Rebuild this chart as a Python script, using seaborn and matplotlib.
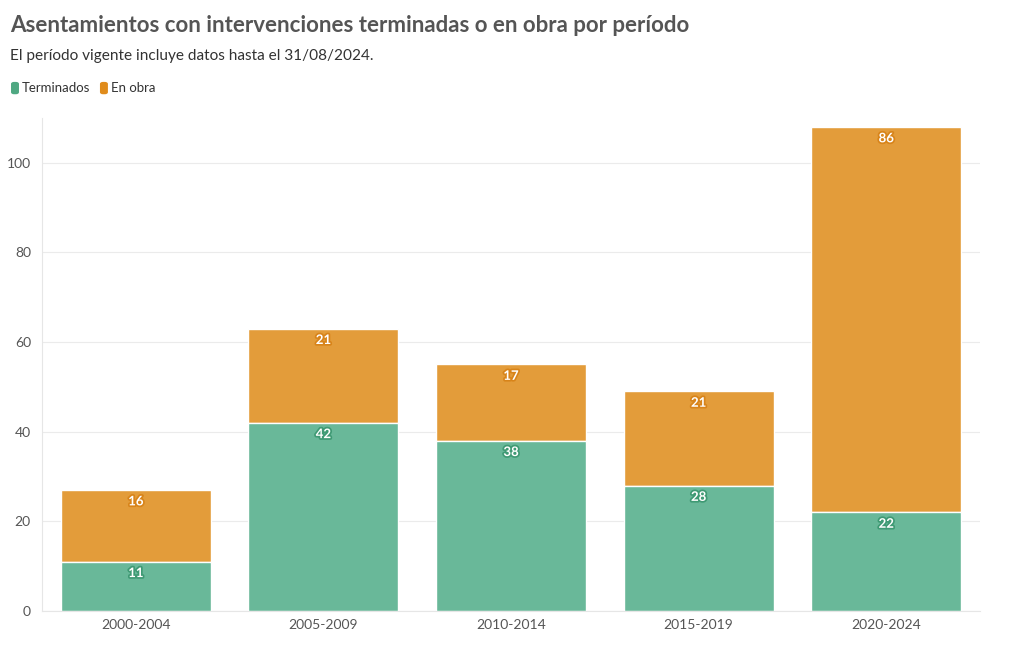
import matplotlib
matplotlib.use("Agg")
import matplotlib.pyplot as plt
import matplotlib.patheffects as pe
import seaborn as sns
import pandas as pd
import numpy as np

periods = ["2000-2004", "2005-2009", "2010-2014", "2015-2019", "2020-2024"]
terminados = [11, 42, 38, 28, 22]
en_obra = [16, 21, 17, 21, 86]
yticks = [0, 20, 40, 60, 80, 100]

GREEN = "#69b899"
ORANGE = "#e39c3a"
GREEN_LEG = "#4fa882"
ORANGE_LEG = "#e08c1c"
TXT = "#555555"

sns.set_theme(style="white")
plt.rcParams["font.family"] = ["Lato", "DejaVu Sans"]

fig = plt.figure(figsize=(10.2, 6.5), dpi=100)
ax = fig.add_axes([0.0412, 0.06, 0.9196, 0.7585])

df = pd.DataFrame({"period": periods, "terminados": terminados, "en_obra": en_obra})

sns.barplot(data=df, x="period", y="en_obra", bottom=df["terminados"], color=ORANGE,
            saturation=1, width=0.8, edgecolor="white", linewidth=1, ax=ax)
sns.barplot(data=df, x="period", y="terminados", color=GREEN,
            saturation=1, width=0.8, edgecolor="white", linewidth=1, ax=ax)

for i, (t, o) in enumerate(zip(terminados, en_obra)):
    ax.text(i, t - 1.2, str(t), ha="center", va="top", color="white", fontsize=9.5,
            fontweight="bold",
            path_effects=[pe.withStroke(linewidth=2.5, foreground="#3f9a74")])
    ax.text(i, t + o - 1.2, str(o), ha="center", va="top", color="white", fontsize=9.5,
            fontweight="bold",
            path_effects=[pe.withStroke(linewidth=2.5, foreground="#d8841a")])

ax.set_xlim(-0.5, 4.5)
ax.set_ylim(0, 110)
ax.set_yticks(yticks)
ax.set_yticklabels([str(v) for v in yticks], color=TXT, fontsize=10)
ax.tick_params(axis="x", colors=TXT, labelsize=10, length=0, pad=6)
ax.tick_params(axis="y", length=0, pad=8)
ax.set_xlabel("")
ax.set_ylabel("")
ax.yaxis.grid(True, color="#ebebeb", linewidth=0.8)
ax.set_axisbelow(True)
for s in ["top", "right"]:
    ax.spines[s].set_visible(False)
ax.spines["left"].set_color("#e6e6e6")
ax.spines["bottom"].set_color("#e6e6e6")
ax.spines["left"].set_linewidth(0.8)
ax.spines["bottom"].set_linewidth(0.8)

fig.text(0.0098, 0.960, "Asentamientos con intervenciones terminadas o en obra por período",
         fontsize=16, fontweight="bold", color=TXT, va="center", ha="left")
fig.text(0.0098, 0.914, "El período vigente incluye datos hasta el 31/08/2024.",
         fontsize=11.1, color="#333333", va="center", ha="left")

from matplotlib.patches import FancyBboxPatch
def swatch(x, y, c):
    p = FancyBboxPatch((x, y), 0.0078, 0.019, boxstyle="round,pad=0,rounding_size=0.003",
                       transform=fig.transFigure, facecolor=c, edgecolor="none")
    fig.patches.append(p)
swatch(0.0108, 0.855, GREEN_LEG)
fig.text(0.0215, 0.8645, "Terminados", fontsize=9.5, color="#333333", va="center")
swatch(0.0980, 0.855, ORANGE_LEG)
fig.text(0.1090, 0.8645, "En obra", fontsize=9.5, color="#333333", va="center")

fig.savefig("out.png", dpi=100, facecolor="white")
